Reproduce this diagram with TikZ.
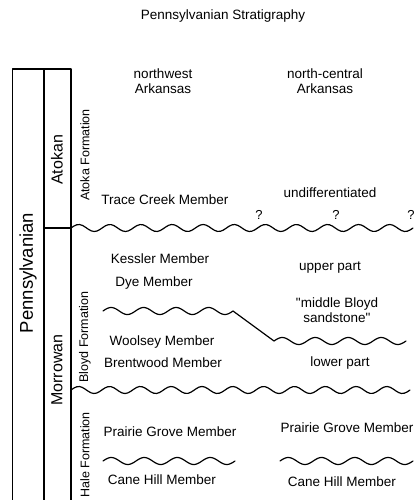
\documentclass[tikz,border=0pt]{standalone}
\usepackage{fontspec}
\setmainfont{Liberation Sans}
\usetikzlibrary{
  positioning
}

\begin{document}
\begin{tikzpicture}[x=1pt,y=-1pt,
      member/.style={
         inner sep=0pt,
         align=center,
         font=\fontsize{13.5}{15.5}\selectfont
      },
      formation/.style={
         inner sep=0pt,
         rotate=90,
         font=\fontsize{12.5}{14}\selectfont
      },
      epoch/.style={
         inner sep=0pt,
         rotate=90,
         font=\fontsize{16}{18}\selectfont
      },
      period/.style={
         inner sep=0pt,
         rotate=90,
         font=\fontsize{18.5}{20}\selectfont
      },
      query/.style={inner sep=0pt, font=\fontsize{13}{14}\selectfont},
      line width=1.2pt, line cap=round, line join=round
    ]
    \useasboundingbox (0,0) rectangle (417,500);
    % column frame
    \coordinate (c1t) at (12.5,69);  \coordinate (c1b) at (12.5,500);
    \coordinate (c2t) at (44,69);    \coordinate (c2b) at (44,500);
    \coordinate (c3t) at (71,69);    \coordinate (c3b) at (71,500);
    \coordinate (ep)  at (44,228);
    \draw (c1b) -- (c1t) -- (c3t) -- (c3b);
    \draw (c2t) -- (c2b);
    % headings
    \node (title) [member] at (223,16) {Pennsylvanian Stratigraphy};
    \node (nw) [member] at (163,81) {northwest\\Arkansas};
    \node (nc) [member] at (325,81) {north-central\\Arkansas};
    % time column
    \node (penn) [period] at (28,273) {Pennsylvanian};
    \node (atok) [epoch] at (57,160) {Atokan};
    \node (morr) [epoch] at (57,370) {Morrowan};
    \node (fatoka) [formation] at (85,155) {Atoka Formation};
    \node (fbloyd) [formation] at (85,337) {Bloyd Formation};
    \node (fhale) [formation] at (85,455) {Hale Formation};
    % members
    \node (trace) [member] at (165,200) {Trace Creek Member};
    \node (undiff) [member] at (330,193) {undifferentiated};
    \node (kessler) [member] at (160,259) {Kessler Member};
    \node (dye) [member] at (154,283) {Dye Member};
    \node (upper) [member] at (330,268) {upper part};
    \node (midb) [member] at (337,310) {\textquotedbl middle Bloyd\\sandstone\textquotedbl};
    \node (woolsey) [member] at (162,342) {Woolsey Member};
    \node (brent) [member] at (163,363) {Brentwood Member};
    \node (lower) [member] at (340,363) {lower part};
    \node (pgl) [member] at (170,432) {Prairie Grove Member};
    \node (pgr) [member] at (347,428) {Prairie Grove Member};
    \node (chl) [member] at (162,480) {Cane Hill Member};
    \node (chr) [member] at (342,482) {Cane Hill Member};
    % boundaries (unconformities)
    \foreach \xa/\xb/\yy/\nn in {71/413/228/11, 103/233/311/4, 274/406/341/4,
                                 71/410/390/11, 103/235/461/4, 280/413/461/4}
       \draw plot[domain=\xa:\xb, samples=120, smooth]
          (\x, {\yy - 3.5*sin((\x-\xa)/(\xb-\xa)*360*\nn)});
    \coordinate (u2b) at (233,311);
    \coordinate (u3a) at (274,341);
    \draw (ep) -- (71,228);
    \draw (u2b) -- (u3a);
    \node (q1) [query] at (259,215) {?};
    \node (q2) [query] at (336,215) {?};
    \node (q3) [query] at (411,215) {?};
\end{tikzpicture}
\end{document}
